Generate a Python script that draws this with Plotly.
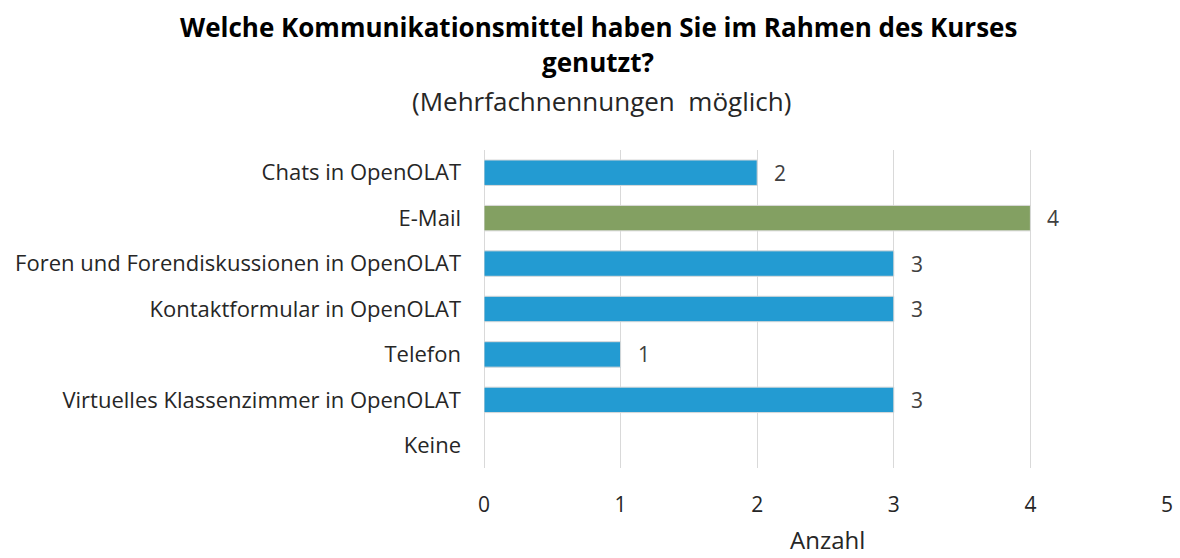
import plotly.graph_objects as go

categories = [
    "Chats in OpenOLAT",
    "E-Mail",
    "Foren und Forendiskussionen in OpenOLAT",
    "Kontaktformular in OpenOLAT",
    "Telefon",
    "Virtuelles Klassenzimmer in OpenOLAT",
    "Keine",
]
values = [2, 4, 3, 3, 1, 3, 0]
bar_colors = ["#239BD2", "#83A062", "#239BD2", "#239BD2", "#239BD2", "#239BD2", "#239BD2"]
x_ticks = [0, 1, 2, 3, 4, 5]

FONT = "Open Sans"

L, R, T, B = 484, 13, 150, 90
W, H = 1180, 558

fig = go.Figure(
    go.Bar(
        x=values,
        y=categories,
        orientation="h",
        marker=dict(color=bar_colors, line=dict(color="#D9D9D9", width=1)),
        width=0.56,
        hoverinfo="skip",
    )
)

plot_h = H - T - B
plot_w = W - L - R


def px_to_paper(px, py):
    return (px - L) / plot_w, (H - B - py) / plot_h


anns = []
for txt, cx, cy, size, bold in [
    ("Welche Kommunikationsmittel haben Sie im Rahmen des Kurses", 598, 27, 26, True),
    ("genutzt?", 598, 62, 26, True),
    ("(Mehrfachnennungen  möglich)", 601, 101, 26, False),
    ("Anzahl", 827, 539, 24, False),
]:
    px, py = px_to_paper(cx, cy)
    anns.append(dict(
        text=f"<b>{txt}</b>" if bold else txt,
        x=px, y=py, xref="paper", yref="paper", showarrow=False,
        xanchor="center", yanchor="middle",
        font=dict(family=FONT, size=size, color="#000000" if bold else "#262626"),
    ))

# data labels, positioned through the data scales
for cat, v in zip(categories, values):
    if v > 0:
        anns.append(dict(
            text=str(v), x=v, y=cat, xref="x", yref="y", showarrow=False,
            xanchor="left", yanchor="middle", xshift=15,
            font=dict(family=FONT, size=21, color="#404040"),
        ))

fig.update_layout(
    width=W,
    height=H,
    margin=dict(l=L, r=R, t=T, b=B),
    paper_bgcolor="white",
    plot_bgcolor="white",
    showlegend=False,
    font=dict(family=FONT, color="#404040"),
    annotations=anns,
)

fig.update_xaxes(
    range=[0, 5],
    tickvals=x_ticks,
    automargin=False,
    showgrid=True,
    gridcolor="#D9D9D9",
    gridwidth=1,
    zeroline=True,
    zerolinecolor="#D9D9D9",
    zerolinewidth=1,
    showline=False,
    tickfont=dict(family=FONT, size=21, color="#262626"),
    ticklabelstandoff=22,
)
fig.update_yaxes(
    autorange="reversed",
    automargin=False,
    showgrid=False,
    showline=False,
    tickfont=dict(family=FONT, size=22, color="#262626"),
    ticklabelstandoff=22,
)

fig.write_html(
    "out.html",
    config={"displayModeBar": False},
    post_script="document.body.style.margin='0';document.body.style.overflow='hidden';",
)
